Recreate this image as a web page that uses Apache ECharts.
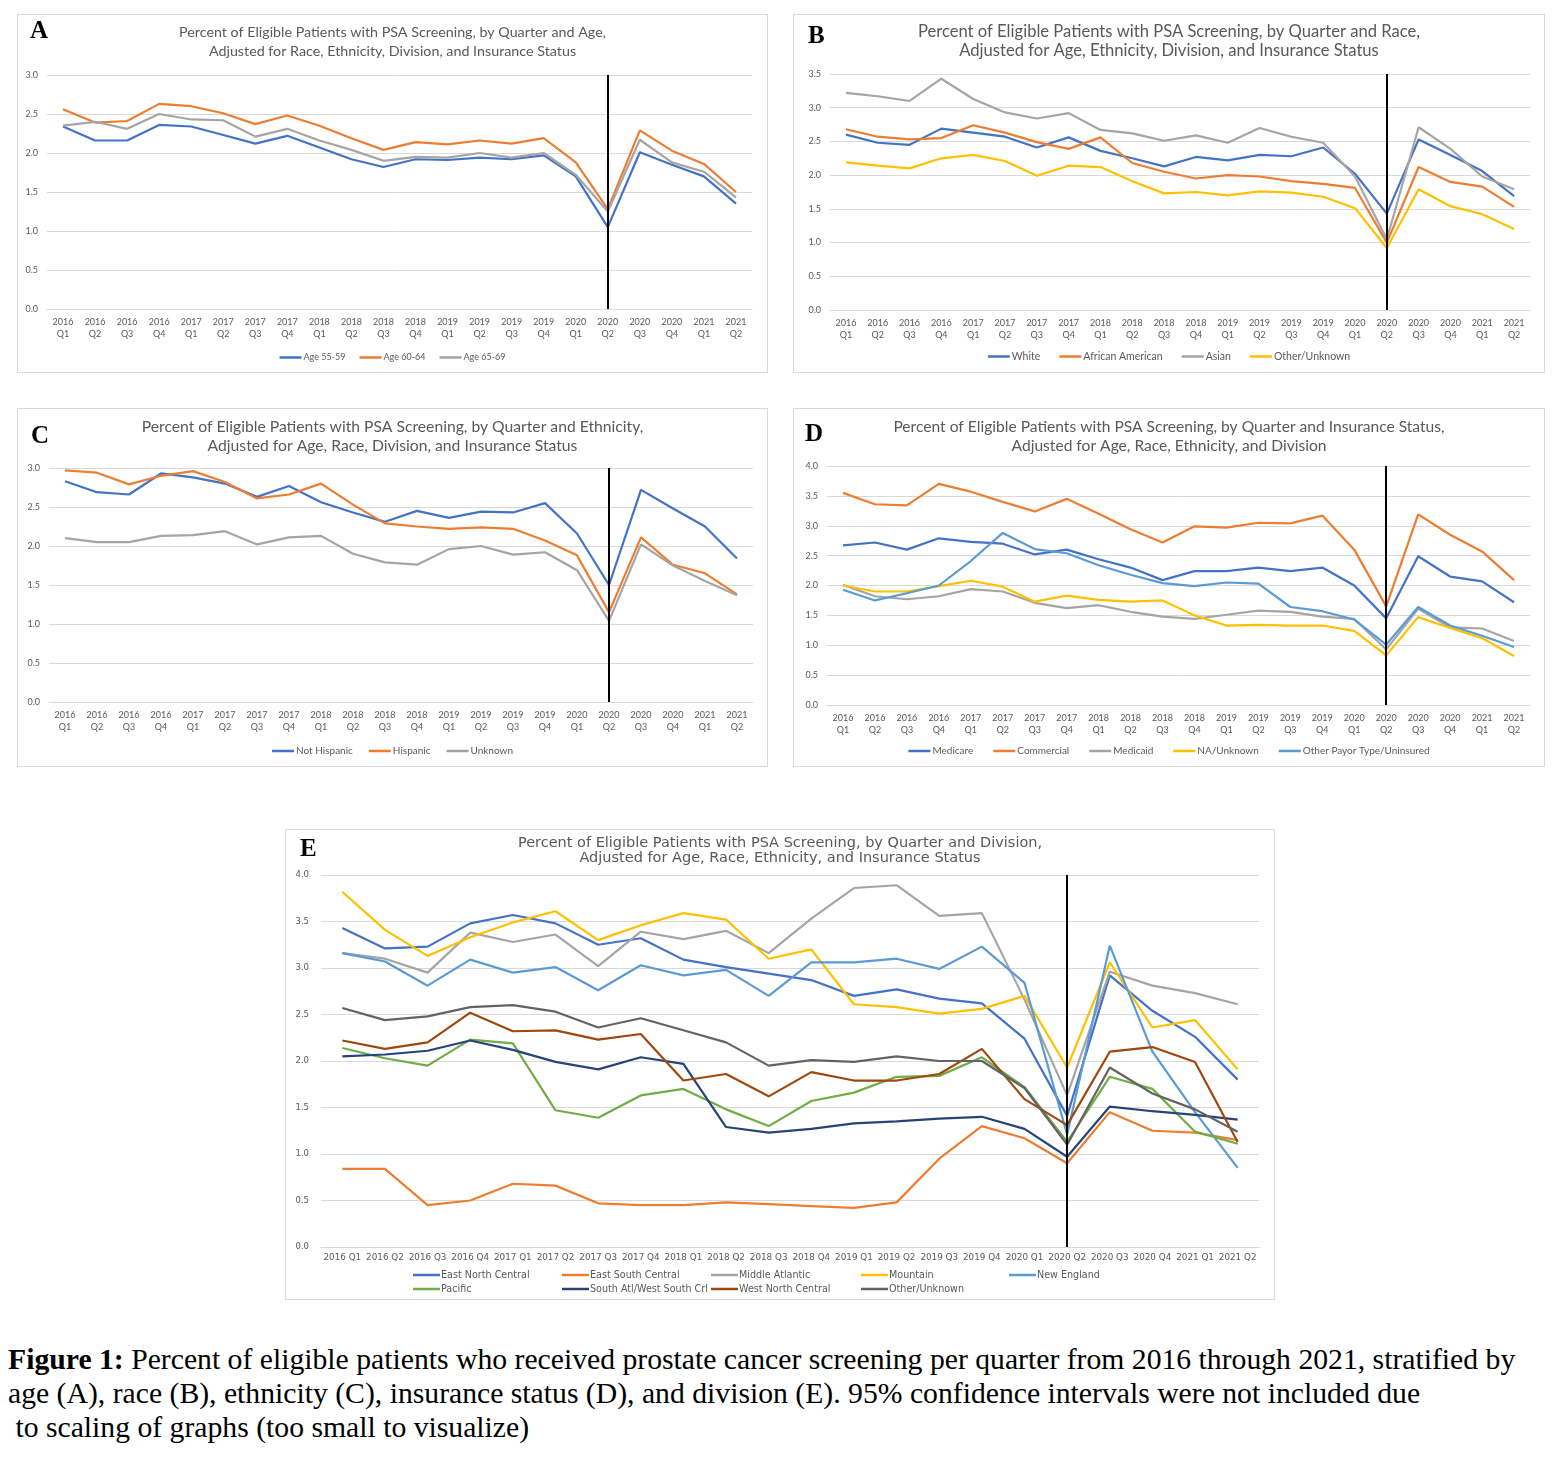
<!DOCTYPE html>
<html>
<head>
<meta charset="utf-8">
<script src="https://cdn.jsdelivr.net/npm/echarts@6/dist/echarts.min.js"></script>
<style>
  html, body { margin: 0; padding: 0; background: #fff; }
  body { width: 1560px; height: 1457px; position: relative; overflow: hidden; }
  .panel { position: absolute; border: 1px solid #d9d9d9; box-sizing: border-box; background: #fff; }
  .letter { position: absolute; font-family: "Liberation Serif", serif; font-weight: bold; font-size: 25px; color: #000; line-height: 1; }
  #caption { position: absolute; left: 8px; top: 1342px; font-family: "Liberation Serif", serif; font-size: 29.7px; line-height: 34px; color: #000; white-space: pre; }
</style>
</head>
<body>
<div id="pA" class="panel" style="left:17px;top:14px;width:751px;height:359px;"></div>
<div id="pB" class="panel" style="left:793px;top:14px;width:752px;height:359px;"></div>
<div id="pC" class="panel" style="left:17px;top:408px;width:751px;height:359px;"></div>
<div id="pD" class="panel" style="left:793px;top:408px;width:752px;height:359px;"></div>
<div id="pE" class="panel" style="left:285px;top:829px;width:990px;height:471px;"></div>
<div class="letter" style="left:30px;top:17px;">A</div>
<div class="letter" style="left:808px;top:22px;">B</div>
<div class="letter" style="left:31px;top:422px;">C</div>
<div class="letter" style="left:805px;top:420px;">D</div>
<div class="letter" style="left:300px;top:835px;">E</div>
<div id="caption"><b>Figure 1:</b> Percent of eligible patients who received prostate cancer screening per quarter from 2016 through 2021, stratified by
age (A), race (B), ethnicity (C), insurance status (D), and division (E). 95% confidence intervals were not included due
 to scaling of graphs (too small to visualize)</div>
<script>
// ---- categories ----
const quarters = ['2016 Q1','2016 Q2','2016 Q3','2016 Q4','2017 Q1','2017 Q2','2017 Q3','2017 Q4',
  '2018 Q1','2018 Q2','2018 Q3','2018 Q4','2019 Q1','2019 Q2','2019 Q3','2019 Q4',
  '2020 Q1','2020 Q2','2020 Q3','2020 Q4','2021 Q1','2021 Q2'];
const markerQuarter = '2020 Q2';

// ---- Panel A: age ----
const age55_59 = [2.34,2.16,2.16,2.36,2.34,2.23,2.12,2.22,2.07,1.92,1.82,1.92,1.91,1.94,1.92,1.97,1.70,1.05,2.01,1.85,1.70,1.35];
const age60_64 = [2.56,2.39,2.41,2.63,2.60,2.51,2.37,2.48,2.35,2.19,2.04,2.14,2.11,2.16,2.12,2.19,1.88,1.28,2.29,2.03,1.86,1.50];
const age65_69 = [2.35,2.40,2.31,2.50,2.43,2.42,2.21,2.31,2.16,2.04,1.90,1.95,1.94,2.00,1.94,2.00,1.72,1.25,2.17,1.88,1.76,1.43];

// ---- Panel B: race ----
const raceWhite = [2.60,2.48,2.45,2.69,2.63,2.57,2.41,2.56,2.36,2.25,2.13,2.27,2.22,2.30,2.28,2.41,2.02,1.43,2.53,2.30,2.06,1.69];
const raceAfricanAmerican = [2.68,2.57,2.53,2.55,2.74,2.63,2.49,2.39,2.56,2.18,2.05,1.95,2.00,1.98,1.91,1.87,1.81,1.00,2.12,1.90,1.83,1.53];
const raceAsian = [3.22,3.17,3.10,3.43,3.13,2.93,2.84,2.92,2.67,2.62,2.51,2.59,2.48,2.70,2.57,2.48,1.98,1.05,2.71,2.39,1.98,1.79];
const raceOther = [2.19,2.14,2.10,2.25,2.30,2.21,1.99,2.14,2.12,1.91,1.73,1.75,1.70,1.76,1.74,1.68,1.51,0.92,1.79,1.54,1.42,1.20];

// ---- Panel C: ethnicity ----
const ethNotHispanic = [2.83,2.69,2.66,2.93,2.88,2.80,2.63,2.77,2.56,2.43,2.31,2.45,2.36,2.44,2.43,2.55,2.16,1.50,2.72,2.48,2.25,1.84];
const ethHispanic = [2.97,2.94,2.79,2.90,2.96,2.82,2.61,2.66,2.80,2.53,2.29,2.25,2.22,2.24,2.22,2.07,1.88,1.15,2.11,1.76,1.65,1.38];
const ethUnknown = [2.10,2.05,2.05,2.13,2.14,2.19,2.02,2.11,2.13,1.90,1.79,1.76,1.96,2.00,1.89,1.92,1.69,1.04,2.02,1.75,1.55,1.37];

// ---- Panel D: insurance ----
const insMedicare = [2.67,2.72,2.60,2.79,2.73,2.70,2.52,2.60,2.44,2.30,2.09,2.24,2.24,2.30,2.24,2.30,2.00,1.45,2.49,2.15,2.07,1.72];
const insCommercial = [3.55,3.36,3.34,3.70,3.57,3.40,3.24,3.45,3.20,2.94,2.72,2.99,2.97,3.05,3.04,3.17,2.60,1.65,3.19,2.85,2.57,2.09];
const insMedicaid = [2.01,1.82,1.77,1.82,1.94,1.90,1.71,1.62,1.67,1.56,1.48,1.44,1.51,1.58,1.56,1.48,1.44,0.93,1.61,1.30,1.28,1.07];
const insNAUnknown = [2.00,1.90,1.90,1.99,2.08,1.98,1.73,1.83,1.76,1.73,1.75,1.50,1.33,1.34,1.33,1.33,1.24,0.83,1.47,1.29,1.12,0.82];
const insOtherPayor = [1.93,1.75,1.87,2.00,2.41,2.88,2.61,2.54,2.34,2.18,2.04,1.99,2.05,2.03,1.64,1.57,1.43,1.01,1.64,1.33,1.16,0.97];

// ---- Panel E: division ----
const divEastNorthCentral = [3.43,3.21,3.23,3.48,3.57,3.48,3.25,3.32,3.09,3.01,2.94,2.87,2.70,2.77,2.67,2.62,2.24,1.41,2.92,2.54,2.26,1.80];
const divEastSouthCentral = [0.84,0.84,0.45,0.50,0.68,0.66,0.47,0.45,0.45,0.48,0.46,0.44,0.42,0.48,0.95,1.30,1.17,0.90,1.45,1.25,1.23,1.15];
const divMiddleAtlantic = [3.16,3.10,2.95,3.38,3.28,3.36,3.02,3.39,3.31,3.40,3.16,3.53,3.86,3.89,3.56,3.59,2.66,1.63,2.96,2.81,2.73,2.61];
const divMountain = [3.82,3.41,3.13,3.33,3.49,3.61,3.30,3.46,3.59,3.52,3.10,3.20,2.61,2.58,2.51,2.56,2.70,1.93,3.06,2.36,2.44,1.91];
const divNewEngland = [3.16,3.07,2.81,3.09,2.95,3.01,2.76,3.03,2.92,2.98,2.70,3.06,3.06,3.10,2.99,3.23,2.84,1.21,3.24,2.10,1.45,0.85];
const divPacific = [2.14,2.03,1.95,2.23,2.19,1.47,1.39,1.63,1.70,1.48,1.30,1.57,1.66,1.83,1.84,2.04,1.72,1.13,1.83,1.70,1.24,1.11];
const divSouthAtlWSC = [2.05,2.07,2.11,2.22,2.12,1.99,1.91,2.04,1.97,1.29,1.23,1.27,1.33,1.35,1.38,1.40,1.27,0.97,1.51,1.46,1.42,1.37];
const divWestNorthCentral = [2.22,2.13,2.20,2.52,2.32,2.33,2.23,2.29,1.79,1.86,1.62,1.88,1.79,1.79,1.86,2.13,1.59,1.31,2.10,2.15,1.99,1.13];
const divOtherUnknown = [2.57,2.44,2.48,2.58,2.60,2.53,2.36,2.46,2.33,2.20,1.95,2.01,1.99,2.05,2.00,2.00,1.71,1.10,1.93,1.65,1.48,1.24];

const C_BLUE='#4472C4', C_ORANGE='#ED7D31', C_GRAY='#A5A5A5', C_YELLOW='#FFC000',
      C_LBLUE='#5B9BD5', C_GREEN='#70AD47', C_NAVY='#264478', C_BROWN='#9E480E', C_DGRAY='#636363';

const TXT = '#595959';
const GRIDC = '#d9d9d9';

function makeSeries(list, yMax) {
  return list.map((s, i) => {
    const o = {
      name: s.name, type: 'line', data: s.data, symbol: 'none', smooth: false,
      lineStyle: { color: s.color, width: s.w || 2.2 }, itemStyle: { color: s.color },
      z: 2 + i
    };
    if (i === list.length - 1) {
      o.markLine = {
        silent: true, symbol: ['none','none'], label: { show: false }, z: 20,
        lineStyle: { color: '#000', width: 2, type: 'solid' },
        data: [[{ coord: [markerQuarter, yMax] }, { coord: [markerQuarter, 0] }]]
      };
    }
    return o;
  });
}

function panelOption(cfg) {
  return {
    animation: false,
    title: {
      text: cfg.title, left: 'center', top: cfg.titleTop,
      textStyle: { fontFamily: cfg.titleFont, fontSize: cfg.titleSize, fontWeight: 'normal', color: TXT, lineHeight: cfg.titleLH }
    },
    grid: cfg.grid,
    legend: cfg.legend,
    xAxis: {
      type: 'category', data: quarters, boundaryGap: true,
      axisLine: { show: true, lineStyle: { color: GRIDC, width: 1 } },
      axisTick: { show: false },
      axisLabel: {
        interval: 0, color: TXT, fontSize: cfg.xSize, fontFamily: cfg.axisFont, margin: cfg.xMargin,
        lineHeight: cfg.xLH,
        formatter: cfg.singleLineX ? (v => v) : (v => v.replace(' ', '\n'))
      }
    },
    yAxis: {
      type: 'value', min: 0, max: cfg.yMax, interval: 0.5,
      axisLine: { show: false }, axisTick: { show: false },
      splitLine: { lineStyle: { color: GRIDC, width: 1 } },
      axisLabel: { color: TXT, fontSize: cfg.ySize, fontFamily: cfg.axisFont, margin: cfg.yMargin, formatter: v => v.toFixed(1) }
    },
    series: makeSeries(cfg.series, cfg.yMax)
  };
}

function stdLegend(top, gap, size) {
  return {
    top: top, left: 'center', icon: 'rect', itemWidth: 22, itemHeight: 2.5, itemGap: gap,
    textStyle: { color: TXT, fontSize: size, fontFamily: 'Lato', padding: [0,0,0,-3] }
  };
}

const common = { titleFont: 'Lato', titleSize: 14.3, titleLH: 19, axisFont: 'Lato', xSize: 9, ySize: 9, xLH: 12, xMargin: 7, yMargin: 9 };

const cfgA = Object.assign({}, common, {
  title: 'Percent of Eligible Patients with PSA Screening, by Quarter and Age,\nAdjusted for Race, Ethnicity, Division, and Insurance Status',
  titleTop: 3, yMax: 3.0,
  grid: { left: 29, right: 15, top: 60, bottom: 63 },
  legend: stdLegend(333, 14, 9),
  series: [
    { name: 'Age 55-59', data: age55_59, color: C_BLUE },
    { name: 'Age 60-64', data: age60_64, color: C_ORANGE },
    { name: 'Age 65-69', data: age65_69, color: C_GRAY }
  ]
});
const cfgB = Object.assign({}, common, {
  title: 'Percent of Eligible Patients with PSA Screening, by Quarter and Race,\nAdjusted for Age, Ethnicity, Division, and Insurance Status',
  titleTop: 2, titleSize: 16.6, yMax: 3.5,
  grid: { left: 36, right: 14, top: 59, bottom: 62 },
  legend: stdLegend(331, 19, 10.5),
  series: [
    { name: 'White', data: raceWhite, color: C_BLUE },
    { name: 'African American', data: raceAfricanAmerican, color: C_ORANGE },
    { name: 'Asian', data: raceAsian, color: C_GRAY },
    { name: 'Other/Unknown', data: raceOther, color: C_YELLOW }
  ]
});
const cfgC = Object.assign({}, common, {
  title: 'Percent of Eligible Patients with PSA Screening, by Quarter and Ethnicity,\nAdjusted for Age, Race, Division, and Insurance Status',
  titleTop: 3, titleSize: 15.7, yMax: 3.0,
  grid: { left: 31, right: 14, top: 59, bottom: 64 },
  legend: stdLegend(332, 16, 10),
  series: [
    { name: 'Not Hispanic', data: ethNotHispanic, color: C_BLUE },
    { name: 'Hispanic', data: ethHispanic, color: C_ORANGE },
    { name: 'Unknown', data: ethUnknown, color: C_GRAY }
  ]
});
const cfgD = Object.assign({}, common, {
  title: 'Percent of Eligible Patients with PSA Screening, by Quarter and Insurance Status,\nAdjusted for Age, Race, Ethnicity, and Division',
  titleTop: 3, titleSize: 15.6, yMax: 4.0,
  grid: { left: 33, right: 14, top: 57, bottom: 61 },
  legend: stdLegend(332, 20, 10),
  series: [
    { name: 'Medicare', data: insMedicare, color: C_BLUE },
    { name: 'Commercial', data: insCommercial, color: C_ORANGE },
    { name: 'Medicaid', data: insMedicaid, color: C_GRAY },
    { name: 'NA/Unknown', data: insNAUnknown, color: C_YELLOW },
    { name: 'Other Payor Type/Uninsured', data: insOtherPayor, color: C_LBLUE }
  ]
});

const eSeries = [
  { name: 'East North Central', data: divEastNorthCentral, color: C_BLUE, lx: 122, ly: 435 },
  { name: 'East South Central', data: divEastSouthCentral, color: C_ORANGE, lx: 271, ly: 435 },
  { name: 'Middle Atlantic', data: divMiddleAtlantic, color: C_GRAY, lx: 420, ly: 435 },
  { name: 'Mountain', data: divMountain, color: C_YELLOW, lx: 570, ly: 435 },
  { name: 'New England', data: divNewEngland, color: C_LBLUE, lx: 718, ly: 435 },
  { name: 'Pacific', data: divPacific, color: C_GREEN, lx: 122, ly: 449 },
  { name: 'South Atl/West South Crl', data: divSouthAtlWSC, color: C_NAVY, lx: 271, ly: 449 },
  { name: 'West North Central', data: divWestNorthCentral, color: C_BROWN, lx: 420, ly: 449 },
  { name: 'Other/Unknown', data: divOtherUnknown, color: C_DGRAY, lx: 570, ly: 449 }
];
const cfgE = {
  title: 'Percent of Eligible Patients with PSA Screening, by Quarter and Division,\nAdjusted for Age, Race, Ethnicity, and Insurance Status',
  titleFont: 'DejaVu Sans', titleSize: 14.5, titleLH: 15, titleTop: 1,
  axisFont: 'DejaVu Sans', xSize: 8.8, ySize: 8.5, xLH: 10, xMargin: 6, yMargin: 12, singleLineX: true,
  yMax: 4.0,
  grid: { left: 35, right: 15, top: 45, bottom: 52 },
  legend: eSeries.map(s => ({
    data: [s.name], left: s.lx, top: s.ly, icon: 'rect', itemWidth: 27, itemHeight: 2.5,
    textStyle: { color: TXT, fontSize: 9.6, fontFamily: 'DejaVu Sans', padding: [0,0,0,-4] }
  })),
  series: eSeries
};

[['pA', cfgA], ['pB', cfgB], ['pC', cfgC], ['pD', cfgD], ['pE', cfgE]].forEach(([id, cfg]) => {
  const chart = echarts.init(document.getElementById(id), null, { renderer: 'canvas' });
  chart.setOption(panelOption(cfg));
});
</script>
</body>
</html>
